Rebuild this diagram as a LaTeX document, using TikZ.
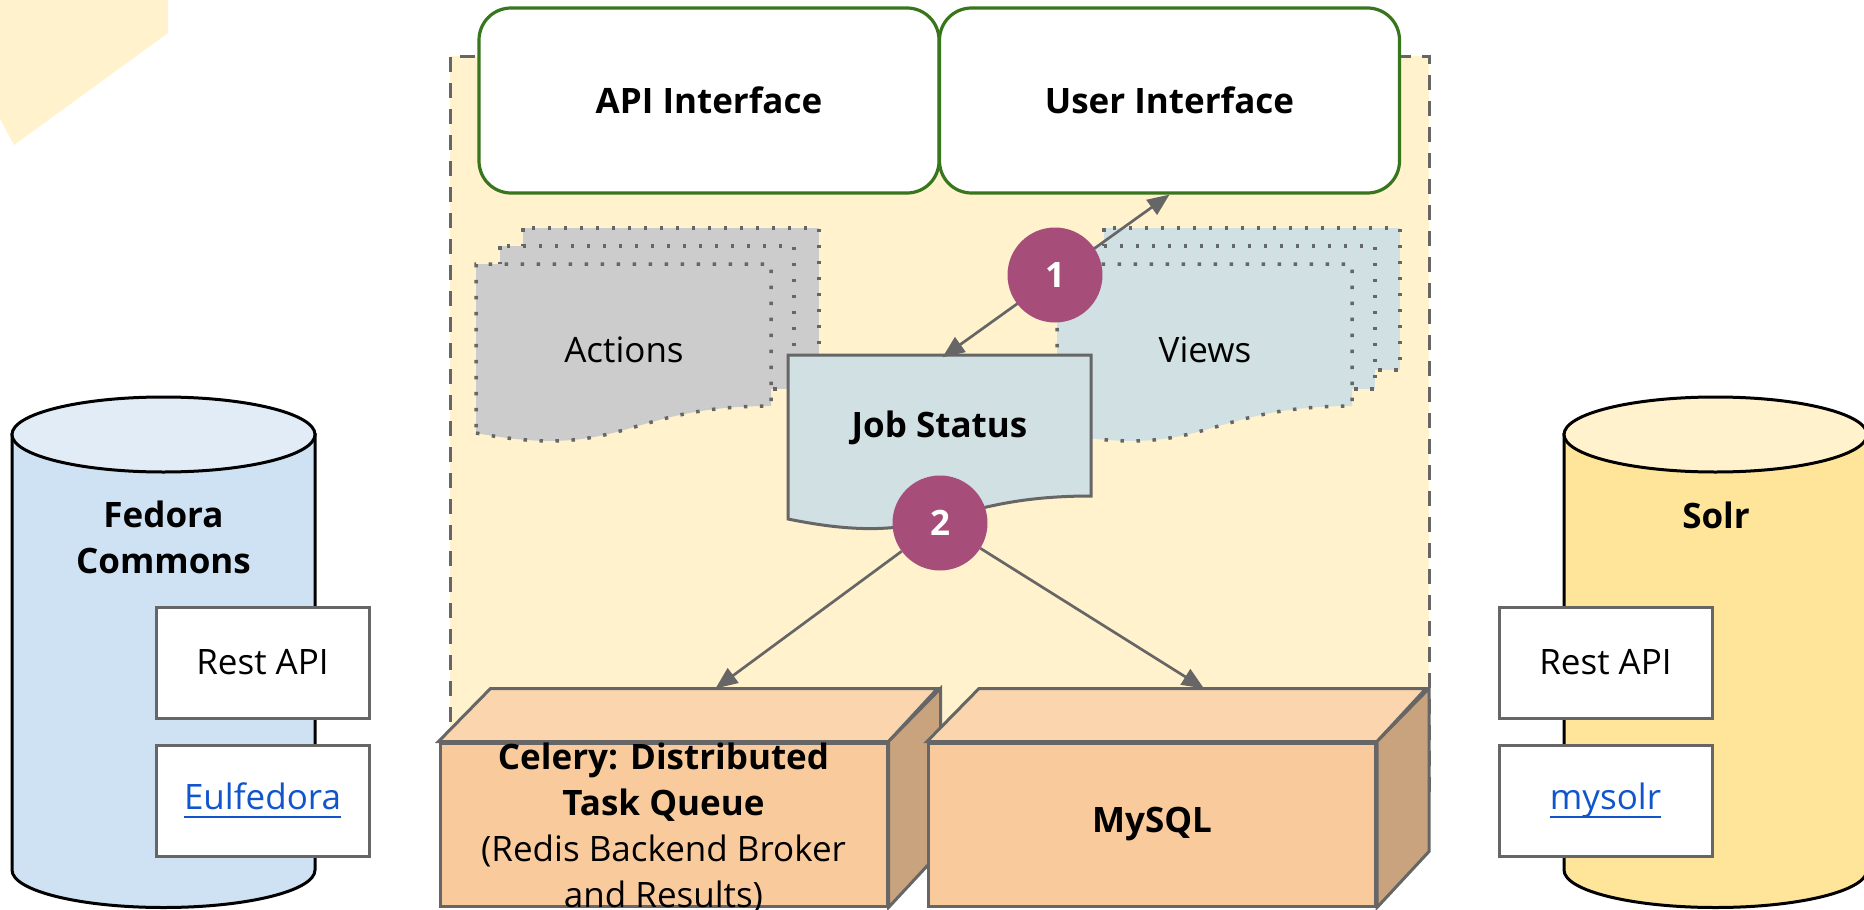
\documentclass[tikz,border=0pt]{standalone}
\usepackage{fontspec}
\setmainfont{Open Sans}
\usetikzlibrary{arrows.meta}
\definecolor{paleyellow}{HTML}{FFF2CC}
\definecolor{edgegray}{HTML}{666666}
\definecolor{uigreen}{HTML}{38761D}
\definecolor{actgray}{HTML}{CCCCCC}
\definecolor{viewblue}{HTML}{D0E0E3}
\definecolor{stepmagenta}{HTML}{A64D79}
\definecolor{boxfront}{HTML}{F9CB9C}
\definecolor{boxtop}{HTML}{FAD5AE}
\definecolor{boxside}{HTML}{C9A27E}
\definecolor{fedorabody}{HTML}{CFE2F3}
\definecolor{fedoratop}{HTML}{E1ECF7}
\definecolor{solrbody}{HTML}{FFE599}
\definecolor{solrtop}{HTML}{FFF2CC}
\definecolor{linkblue}{HTML}{1155CC}
\newcommand{\weblink}[1]{{\color{linkblue}\setbox0\hbox{#1}\rlap{\rule[-8.5pt]{\wd0}{2.5pt}}\box0}}

\begin{document}
\begin{tikzpicture}[x=1pt,y=-1pt,
    every node/.style={font=\fontsize{35}{46}\selectfont, inner sep=0pt},
    bold/.style={font=\fontsize{35}{46}\selectfont\bfseries},
    iface/.style={bold, draw=uigreen, line width=3.2pt, fill=white, rounded corners=32pt, minimum width=460pt, minimum height=185pt},
    apibox/.style={draw=edgegray, line width=3pt, fill=white, minimum width=213pt, minimum height=111pt},
    dotedge/.style={draw=edgegray, line width=3.5pt, dash pattern=on 3.5pt off 12.5pt},
    flow/.style={draw=edgegray, line width=2.7pt},
    >={Triangle[length=22pt,width=18pt]},
    stepmark/.style={bold, circle, fill=stepmagenta, text=white, minimum size=95pt},
    cubeedge/.style={draw=edgegray, line width=3pt},
    cubefront/.style={cubeedge, fill=boxfront, minimum width=447pt, minimum height=163pt},
    cylbody/.style={draw=black, line width=3pt}]
    \useasboundingbox (0,0) rectangle (1864,910);

    % background
    \fill[paleyellow] (0,0) -- (168,0) -- (168,33) -- (14,145) -- (0,119) -- cycle;
    \fill[paleyellow] (450,56) rectangle (1429,800);
    \draw[edgegray, line width=3pt, dash pattern=on 15pt off 11pt] (450,800) -- (450,56) -- (1429,56) -- (1429,800);

    % interfaces
    \node[iface] (api) at (709,100.5) {API Interface};
    \node[iface] (ui) at (1169.5,100.5) {User Interface};

    % actions and views
    \foreach \sx/\col/\nm/\txt in {476/actgray/actions/Actions, 1057/viewblue/views/Views}{
        \begin{scope}[shift={(\sx,228)}]
            \filldraw[fill=\col, dotedge] (47,0) rectangle (343,142);
            \filldraw[fill=\col, dotedge] (24,18) rectangle (318,161);
            \filldraw[fill=\col, dotedge] (0,205) .. controls (148,233) and (148,178) .. (295,178) -- (295,36) -- (0,36) -- cycle;
            \node (\nm) at (148,122) {\txt};
        \end{scope}
    }

    % job status
    \filldraw[fill=viewblue, draw=edgegray, line width=3pt] (788,355) -- (1091,355) -- (1091,496) .. controls (939.5,496) and (939.5,550) .. (788,519) -- cycle;
    \node[bold, minimum width=303pt, minimum height=141pt] (job) at (939.5,428) {Job Status};

    \draw[flow, <->] ([xshift=3pt]job.north) -- (ui.south);
    \node[stepmark] (one) at (1055,275) {1};

    % celery and mysql
    \node[cubefront] (celery) at (663.5,824.5) {};
    \filldraw[fill=boxtop, cubeedge] (celery.north west) -- ++(52,-53) -- ++(447,0) -- (celery.north east) -- cycle;
    \filldraw[fill=boxside, cubeedge] (celery.north east) -- ++(52,-53) -- ++(0,163) -- (celery.south east) -- cycle;
    \node[anchor=north, align=center] (celerytext) at (663.5,743) {\textbf{Celery: Distributed}\\\textbf{Task Queue}\\(Redis Backend Broker\\and Results)};

    \node[cubefront, bold] (mysql) at (1152,824.5) {MySQL};
    \filldraw[fill=boxtop, cubeedge] (mysql.north west) -- ++(52,-53) -- ++(447,0) -- (mysql.north east) -- cycle;
    \filldraw[fill=boxside, cubeedge] (mysql.north east) -- ++(52,-53) -- ++(0,163) -- (mysql.south east) -- cycle;

    \coordinate (celerytop) at ([shift={(52,-53)}]celery.north);
    \coordinate (mysqltop) at ([shift={(52,-53)}]mysql.north);
    \node[stepmark] (two) at (940,523) {2};
    \draw[flow, ->] (two) -- (celerytop);
    \draw[flow, ->] (two) -- (mysqltop);

    % fedora
    \filldraw[fill=fedorabody, cylbody] (12,434.5) -- (12,870) arc[start angle=180, end angle=0, x radius=151.5, y radius=37.5] -- (315,434.5) -- cycle;
    \filldraw[fill=fedoratop, cylbody] (163.5,434.5) ellipse [x radius=151.5, y radius=37.5];
    \node[bold, align=center] (fedora) at (163.5,537) {Fedora\\Commons};
    \node[apibox] (fedrest) at (262.5,662.5) {Rest API};
    \node[apibox] (fedlib) at (262.5,800.5) {\weblink{Eulfedora}};

    % solr
    \filldraw[fill=solrbody, cylbody] (1564,434.5) -- (1564,870) arc[start angle=180, end angle=0, x radius=151.5, y radius=37.5] -- (1867,434.5) -- cycle;
    \filldraw[fill=solrtop, cylbody] (1715.5,434.5) ellipse [x radius=151.5, y radius=37.5];
    \node[bold] (solr) at (1716,515) {Solr};
    \node[apibox] (solrrest) at (1605.5,662.5) {Rest API};
    \node[apibox] (solrlib) at (1605.5,800.5) {\weblink{mysolr}};
\end{tikzpicture}
\end{document}
